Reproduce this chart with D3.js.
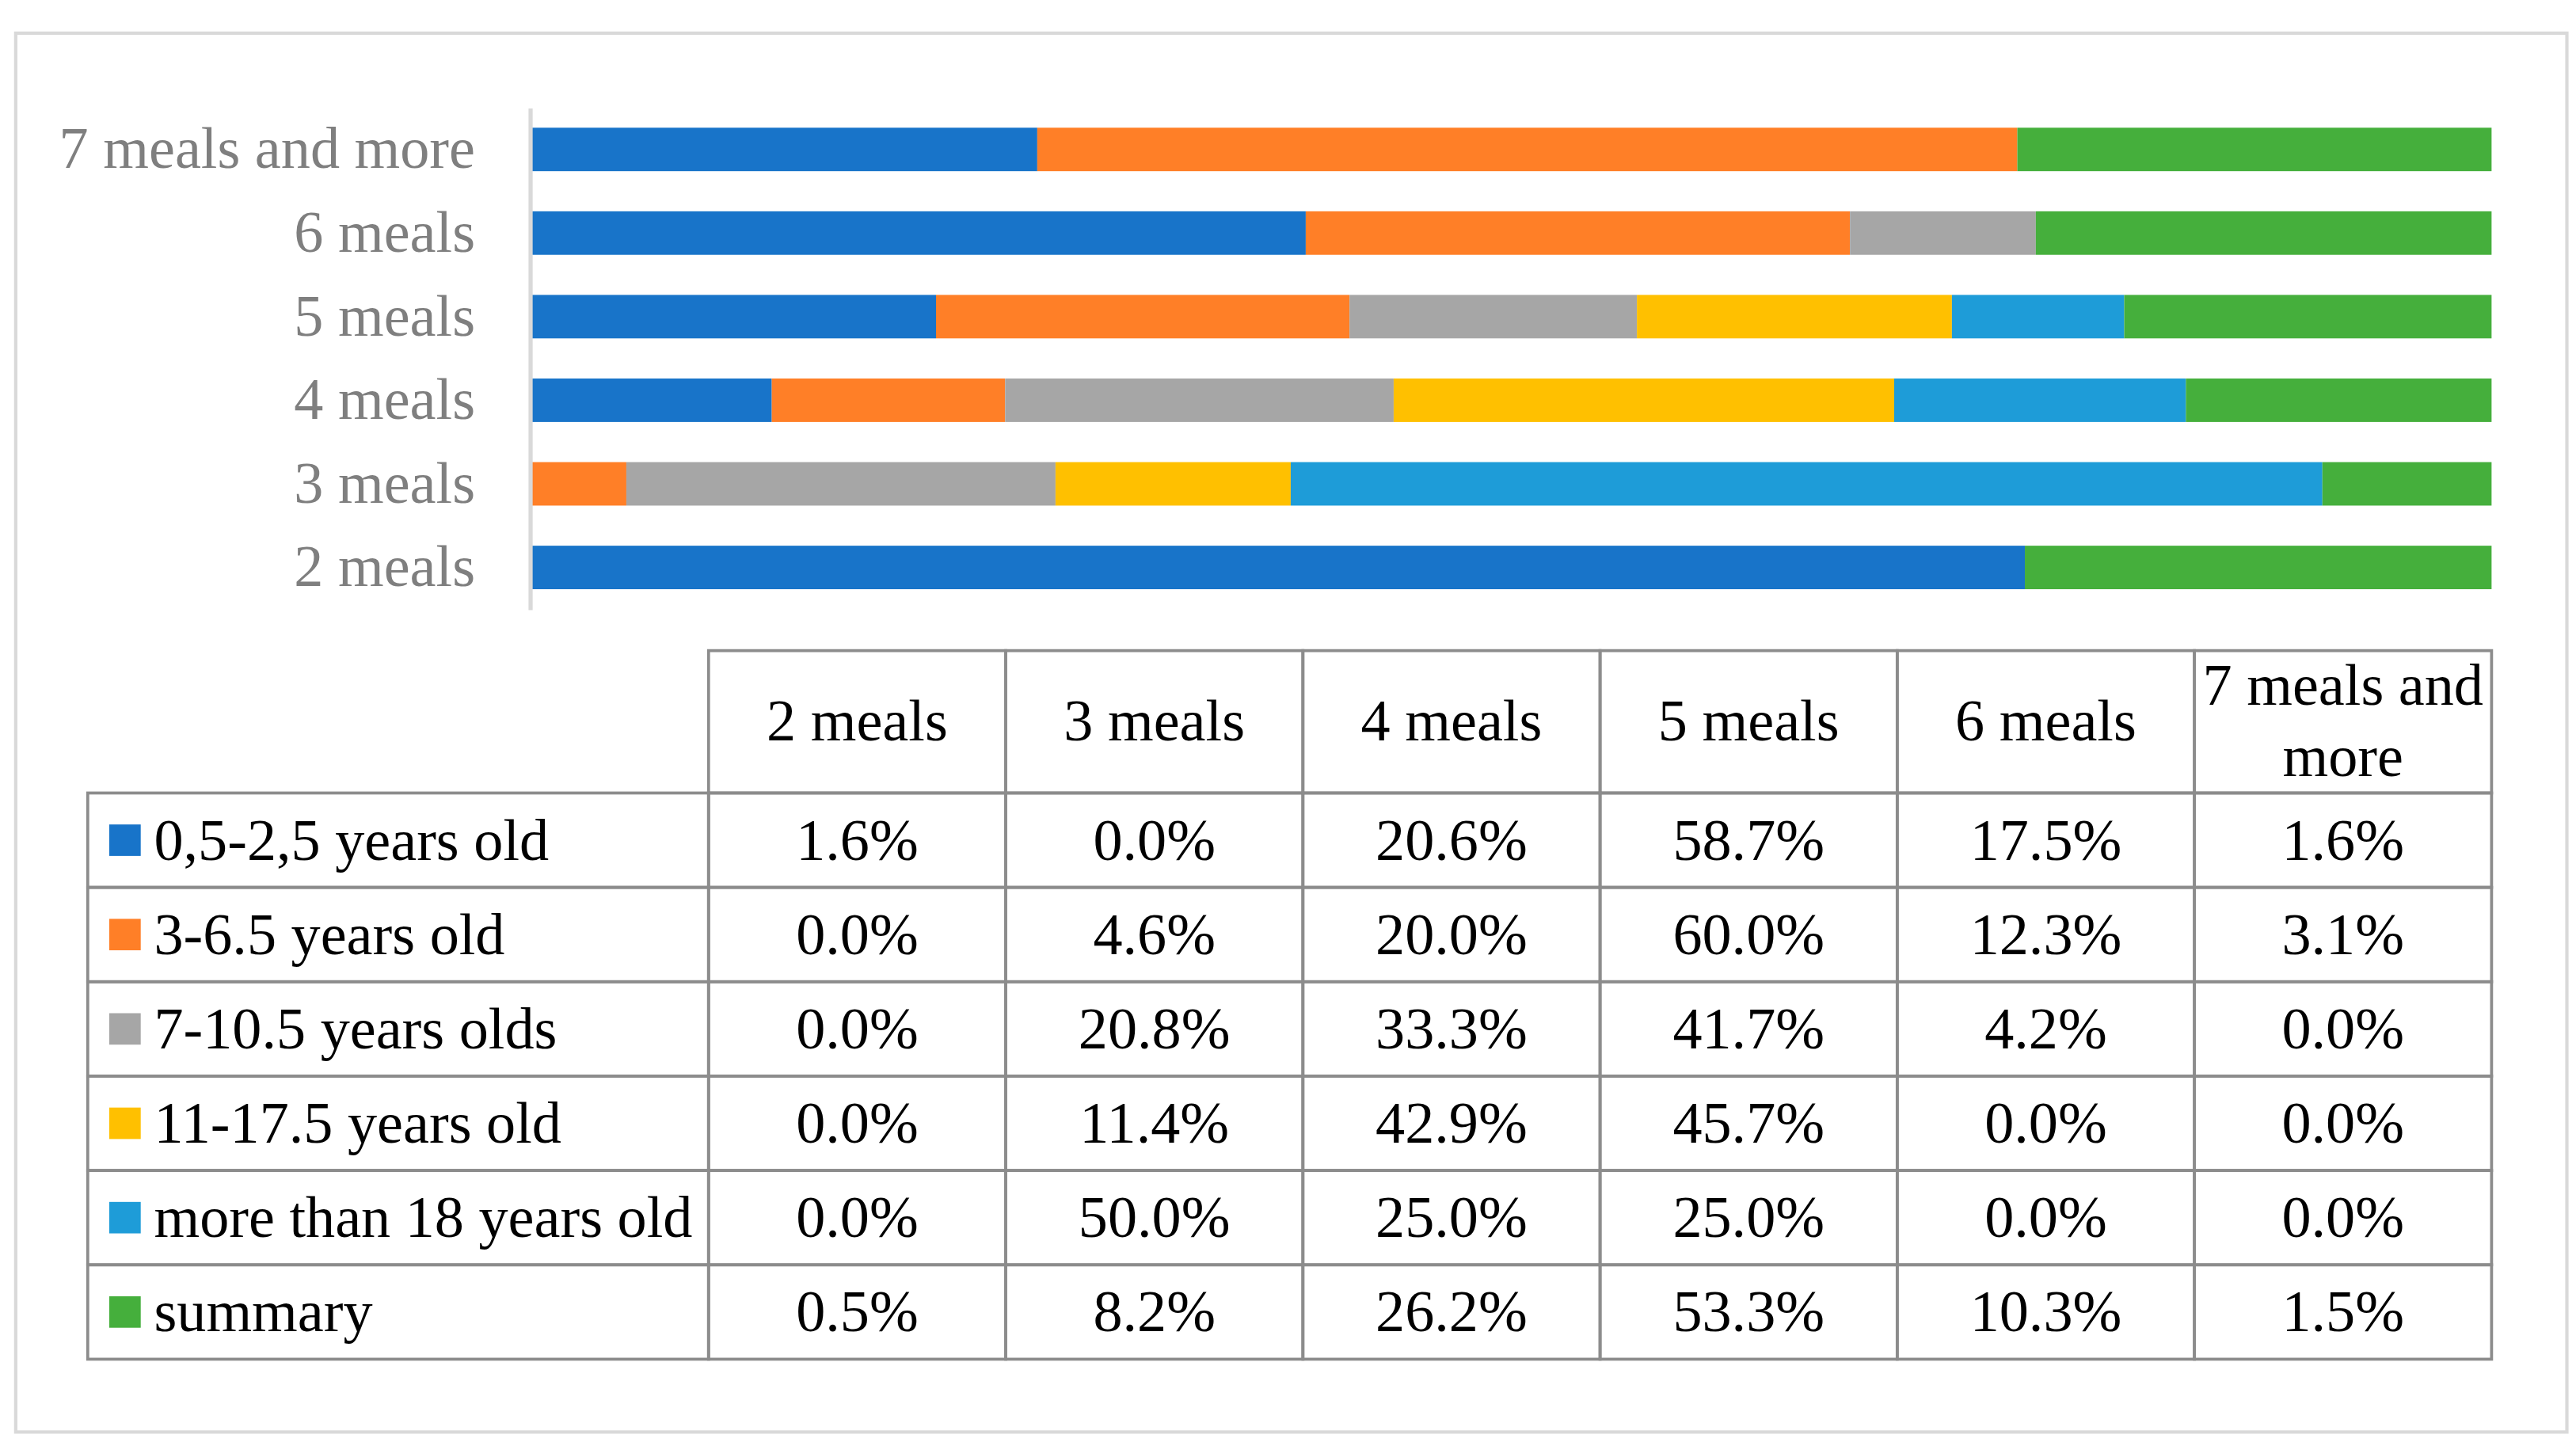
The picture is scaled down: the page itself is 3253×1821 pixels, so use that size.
<!DOCTYPE html>
<html>
<head>
<meta charset="utf-8">
<script src="https://cdn.jsdelivr.net/npm/d3@7"></script>
<style>
  html, body { margin: 0; padding: 0; background: #fff; }
  svg { display: block; }
  text { font-family: "Liberation Serif", "Times New Roman", serif; }
</style>
</head>
<body>
<div id="chart"></div>
<script>
'use strict';

// meal categories (table columns, bar rows)
const categories = ["2 meals", "3 meals", "4 meals", "5 meals", "6 meals", "7 meals and more"];

// age groups (stack series, table rows)
const seriesNames = ["0,5-2,5 years old", "3-6.5 years old", "7-10.5 years olds", "11-17.5 years old", "more than 18 years old", "summary"];
const seriesColors = ["#1874c9", "#ff7f27", "#a6a6a6", "#ffc000", "#1e9cd8", "#45af3c"];

// percent values per age group, in category order
const age05to25 = [1.6, 0.0, 20.6, 58.7, 17.5, 1.6];
const age3to65 = [0.0, 4.6, 20.0, 60.0, 12.3, 3.1];
const age7to105 = [0.0, 20.8, 33.3, 41.7, 4.2, 0.0];
const age11to175 = [0.0, 11.4, 42.9, 45.7, 0.0, 0.0];
const age18plus = [0.0, 50.0, 25.0, 25.0, 0.0, 0.0];
const summary = [0.5, 8.2, 26.2, 53.3, 10.3, 1.5];

const seriesValues = [age05to25, age3to65, age7to105, age11to175, age18plus, summary];

// drawing is done in a 1556 x 871 user space, scaled up to the page size
const W = 1556, H = 871;
const fontSize = 35.5;

let svg = d3.select("#chart").append("svg")
    .attr("width", 3253)
    .attr("height", 1821)
    .attr("viewBox", `0 0 ${W} ${H}`);

// outer frame
svg.append("rect")
    .attr("x", 9.5).attr("y", 20)
    .attr("width", 1541).attr("height", 845)
    .attr("fill", "none")
    .attr("stroke", "#d9d9d9")
    .attr("stroke-width", 2);

// ---- stacked bars ----
let rows = categories.map(function(c, i) {
    let r = { cat: c };
    seriesNames.forEach(function(s, j) { r[s] = seriesValues[j][i]; });
    return r;
});

let stacked = d3.stack()
    .keys(seriesNames)
    .offset(d3.stackOffsetExpand)(rows);

let x = d3.scaleLinear().domain([0, 1]).range([321, 1505]);
let y = d3.scaleBand()
    .domain(categories.slice().reverse())
    .range([65, 368])
    .paddingInner(0.48)
    .paddingOuter(0.24);

let color = d3.scaleOrdinal().domain(seriesNames).range(seriesColors);

svg.append("g")
    .selectAll("g")
    .data(stacked)
    .enter().append("g")
    .attr("fill", d => color(d.key))
    .selectAll("rect")
    .data(d => d)
    .enter().append("rect")
    .attr("x", d => x(d[0]))
    .attr("y", d => y(d.data.cat))
    .attr("width", d => Math.max(0, x(d[1]) - x(d[0])))
    .attr("height", y.bandwidth());

let yAxis = svg.append("g")
    .attr("transform", "translate(320,0)")
    .call(d3.axisLeft(y).tickSize(0).tickSizeOuter(0).tickPadding(33));

yAxis.select(".domain")
    .attr("stroke", "#d9d9d9")
    .attr("stroke-width", 2.5);

yAxis.selectAll("text")
    .attr("fill", "#7f7f7f")
    .style("font-size", fontSize + "px")
    .style("font-family", '"Liberation Serif", "Times New Roman", serif');

// ---- data table ----
let col = d3.scaleBand().domain(categories).range([428, 1505]);
let tableLeft = 53;
let headerTop = 393, headerBottom = 479;
let row = d3.scaleBand().domain(seriesNames).range([headerBottom, 821]);
let fmt = d3.format(".1f");
let lineColor = "#8c8c8c";

let table = svg.append("g").attr("class", "table");

// header cells
table.selectAll(".head")
    .data(categories)
    .enter().append("rect")
    .attr("x", d => col(d))
    .attr("y", headerTop)
    .attr("width", col.bandwidth())
    .attr("height", headerBottom - headerTop)
    .attr("fill", "none")
    .attr("stroke", lineColor)
    .attr("stroke-width", 1.8);

table.selectAll(".headText")
    .data(categories)
    .enter().append("text")
    .attr("text-anchor", "middle")
    .style("font-size", fontSize + "px")
    .attr("fill", "#000")
    .each(function(d) {
        // wrap words so each line fits in the column
        let t = d3.select(this);
        let words = d.split(" ");
        let lines = [];
        let cur = [];
        words.forEach(function(w) {
            t.text(cur.concat([w]).join(" "));
            if (textLen(t) > col.bandwidth() - 6 && cur.length) {
                lines.push(cur.join(" "));
                cur = [w];
            } else {
                cur.push(w);
            }
        });
        lines.push(cur.join(" "));
        t.text(null);
        let lh = 43;
        let cy = (headerTop + headerBottom) / 2 - 1;
        lines.forEach(function(l, i) {
            t.append("tspan")
                .attr("x", col(d) + col.bandwidth() / 2)
                .attr("y", cy + (i - (lines.length - 1) / 2) * lh)
                .attr("dy", "0.35em")
                .text(l);
        });
    });

function textLen(sel) {
    return sel.node().getComputedTextLength();
}

// label column cells
table.selectAll(".labelCell")
    .data(seriesNames)
    .enter().append("rect")
    .attr("x", tableLeft)
    .attr("y", d => row(d))
    .attr("width", col.range()[0] - tableLeft)
    .attr("height", row.bandwidth())
    .attr("fill", "none")
    .attr("stroke", lineColor)
    .attr("stroke-width", 1.8);

// value cells
let cells = [];
seriesNames.forEach(function(s, j) {
    categories.forEach(function(c, i) {
        cells.push({ s: s, c: c, v: seriesValues[j][i] });
    });
});

table.selectAll(".cell")
    .data(cells)
    .enter().append("rect")
    .attr("x", d => col(d.c))
    .attr("y", d => row(d.s))
    .attr("width", col.bandwidth())
    .attr("height", row.bandwidth())
    .attr("fill", "none")
    .attr("stroke", lineColor)
    .attr("stroke-width", 1.8);

table.selectAll(".cellText")
    .data(cells)
    .enter().append("text")
    .attr("x", d => col(d.c) + col.bandwidth() / 2)
    .attr("y", d => row(d.s) + row.bandwidth() / 2)
    .attr("dy", "0.33em")
    .attr("text-anchor", "middle")
    .style("font-size", fontSize + "px")
    .attr("fill", "#000")
    .text(d => fmt(d.v) + "%");

// legend keys + row labels
table.selectAll(".key")
    .data(seriesNames)
    .enter().append("rect")
    .attr("x", 66)
    .attr("y", d => row(d) + row.bandwidth() / 2 - 9.5)
    .attr("width", 19)
    .attr("height", 19)
    .attr("fill", d => color(d));

table.selectAll(".rowText")
    .data(seriesNames)
    .enter().append("text")
    .attr("x", 93)
    .attr("y", d => row(d) + row.bandwidth() / 2)
    .attr("dy", "0.33em")
    .style("font-size", fontSize + "px")
    .attr("fill", "#000")
    .text(d => d);
</script>
</body>
</html>
